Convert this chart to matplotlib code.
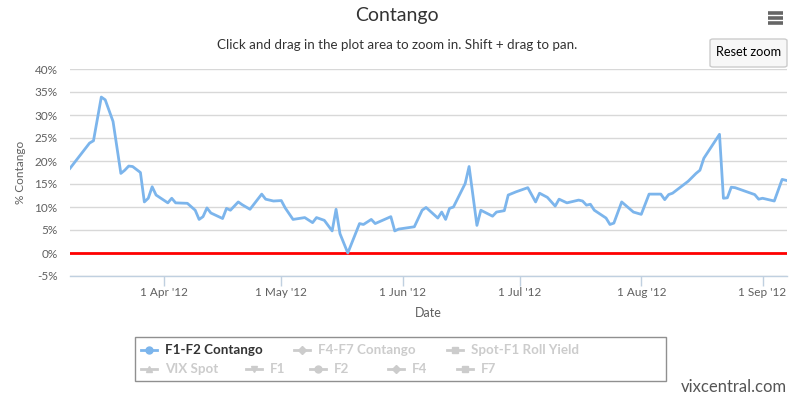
import matplotlib
matplotlib.use("Agg")
import matplotlib.pyplot as plt
from matplotlib.patches import FancyBboxPatch, Rectangle
from matplotlib.lines import Line2D
import datetime as dt

plt.rcParams['font.family'] = ['Lato', 'DejaVu Sans']

dates = ["2012-03-08", "2012-03-13", "2012-03-14", "2012-03-16", "2012-03-17", "2012-03-19",
         "2012-03-21", "2012-03-22", "2012-03-23", "2012-03-24", "2012-03-26", "2012-03-27",
         "2012-03-28", "2012-03-29", "2012-03-30", "2012-04-02", "2012-04-03", "2012-04-04",
         "2012-04-07", "2012-04-09", "2012-04-10", "2012-04-11", "2012-04-12", "2012-04-13",
         "2012-04-16", "2012-04-17", "2012-04-18", "2012-04-20", "2012-04-21", "2012-04-23",
         "2012-04-26", "2012-04-27", "2012-04-29", "2012-05-01", "2012-05-02", "2012-05-04",
         "2012-05-07", "2012-05-09", "2012-05-10", "2012-05-12", "2012-05-14", "2012-05-15",
         "2012-05-16", "2012-05-18", "2012-05-21", "2012-05-22", "2012-05-24", "2012-05-25",
         "2012-05-29", "2012-05-30", "2012-05-31", "2012-06-04", "2012-06-06", "2012-06-07",
         "2012-06-10", "2012-06-11", "2012-06-12", "2012-06-13", "2012-06-14", "2012-06-17",
         "2012-06-18", "2012-06-20", "2012-06-21", "2012-06-24", "2012-06-25", "2012-06-27",
         "2012-06-28", "2012-06-30", "2012-07-03", "2012-07-05", "2012-07-06", "2012-07-08",
         "2012-07-10", "2012-07-11", "2012-07-13", "2012-07-16", "2012-07-17", "2012-07-18",
         "2012-07-19", "2012-07-20", "2012-07-23", "2012-07-24", "2012-07-25", "2012-07-27",
         "2012-07-30", "2012-08-01", "2012-08-03", "2012-08-06", "2012-08-07", "2012-08-08",
         "2012-08-09", "2012-08-13", "2012-08-15", "2012-08-16", "2012-08-17", "2012-08-21",
         "2012-08-22", "2012-08-23", "2012-08-24", "2012-08-25", "2012-08-29", "2012-08-30",
         "2012-08-31", "2012-09-01", "2012-09-04", "2012-09-06", "2012-09-07"]
contango = [18.4, 23.9, 24.4, 33.9, 33.3, 28.6,
            17.3, 18.0, 18.9, 18.8, 17.5, 11.1,
            11.9, 14.4, 12.6, 10.9, 11.9, 10.9,
            10.8, 9.3, 7.3, 7.9, 9.8, 8.7,
            7.5, 9.7, 9.3, 11.1, 10.5, 9.5,
            12.8, 11.7, 11.3, 11.4, 9.8, 7.3,
            7.7, 6.6, 7.7, 7.1, 4.8, 9.5,
            4.2, 0.0, 6.4, 6.2, 7.3, 6.4,
            7.9, 4.8, 5.2, 5.7, 9.3, 9.9,
            7.6, 8.9, 7.3, 9.7, 10.0, 15.1,
            18.8, 6.0, 9.3, 8.0, 8.9, 9.2,
            12.6, 13.3, 14.2, 11.1, 13.0, 12.1,
            10.2, 11.7, 10.9, 11.5, 11.3, 10.4,
            10.6, 9.3, 7.6, 6.2, 6.5, 11.1,
            8.9, 8.4, 12.8, 12.8, 11.6, 12.7,
            13.0, 15.6, 17.3, 18.0, 20.6, 25.8,
            11.9, 12.0, 14.3, 14.2, 13.0, 12.7,
            11.7, 11.9, 11.3, 16.0, 15.8]

y_ticks = [-5, 0, 5, 10, 15, 20, 25, 30, 35, 40]
x_tick_dates = ["2012-04-01", "2012-05-01", "2012-06-01", "2012-07-01", "2012-08-01", "2012-09-01"]
x_tick_labels = ["1 Apr '12", "1 May '12", "1 Jun '12", "1 Jul '12", "1 Aug '12", "1 Sep '12"]
legend_names = ["F1-F2 Contango", "F4-F7 Contango", "Spot-F1 Roll Yield",
                "VIX Spot", "F1", "F2", "F4", "F7"]

W, H = 794, 397
fig = plt.figure(figsize=(W / 100, H / 100), dpi=100)

def fx(px):
    return px / W

def fy(py):
    return 1 - py / H

L, R, T, B = 70, 787, 69, 276
ax = fig.add_axes([fx(L), fy(B), fx(R) - fx(L), fy(T) - fy(B)])

xd = [dt.datetime.strptime(d, "%Y-%m-%d") for d in dates]
ax.plot(xd, contango, color="#7cb5ec", lw=2, solid_joinstyle="round", zorder=3)
ax.axhline(0, color="#ff0000", lw=2, zorder=2)

ax.set_ylim(-5, 40)
ax.set_xlim(dt.datetime(2012, 3, 8), dt.datetime(2012, 9, 7, 6))
ax.set_yticks(y_ticks)
ax.set_yticklabels([f"{v}%" for v in y_ticks])
ax.yaxis.grid(True, color="#d8d8d8", lw=1)
ax.set_axisbelow(True)
ax.tick_params(axis='y', length=0, labelsize=8.5, labelcolor="#606060", pad=9)

xt = [dt.datetime.strptime(d, "%Y-%m-%d") for d in x_tick_dates]
ax.set_xticks(xt)
ax.set_xticklabels(x_tick_labels)
ax.tick_params(axis='x', length=7.2, width=1, color="#c0d0e0", labelsize=8.5,
               labelcolor="#606060", pad=1)
for s in ["top", "right", "left"]:
    ax.spines[s].set_visible(False)
ax.spines["bottom"].set_color("#c0d0e0")
ax.spines["bottom"].set_linewidth(1)

ax.set_ylabel("% Contango", fontsize=8.5, color="#606060", labelpad=6)
ax.set_xlabel("Date", fontsize=9, color="#606060", labelpad=6)

fig.text(fx(397), fy(16), "Contango", ha="center", va="center", fontsize=14, color="#333333")
fig.text(fx(397), fy(45), "Click and drag in the plot area to zoom in. Shift + drag to pan.",
         ha="center", va="center", fontsize=9.6, color="#333333")

# menu icon
for yy in (13, 18, 23):
    fig.add_artist(Line2D([fx(768), fx(783)], [fy(yy), fy(yy)], color="#666666", lw=2.6,
                          solid_capstyle="butt"))

# reset zoom button
fig.add_artist(FancyBboxPatch((fx(710), fy(67)), fx(787) - fx(710), fy(39) - fy(67),
                              boxstyle="round,pad=0,rounding_size=0.004",
                              fc="#f7f7f7", ec="#cccccc", lw=1, transform=fig.transFigure))
fig.text(fx(748.5), fy(52), "Reset zoom", ha="center", va="center", fontsize=9.2, color="#000000")

# legend box
fig.add_artist(Rectangle((fx(135), fy(381)), fx(666) - fx(135), fy(337) - fy(381),
                         fill=False, ec="#909090", lw=1, transform=fig.transFigure))
markers = ["o", "D", "s", "^", "v", "o", "D", "s"]
tpos = [165, 318, 471, 165, 270, 334, 412, 481]
rows = [350, 350, 350, 369, 369, 369, 369, 369]
for i, name in enumerate(legend_names):
    mx, my = tpos[i] - 16, rows[i]
    col = "#7cb5ec" if i == 0 else "#cccccc"
    tcol = "#333333" if i == 0 else "#cccccc"
    fig.add_artist(Line2D([fx(mx - 8), fx(mx + 8)], [fy(my), fy(my)], color=col, lw=2))
    fig.add_artist(Line2D([fx(mx)], [fy(my)], marker=markers[i], color=col,
                          ms=5 if markers[i] != "D" else 4.2, mec=col, lw=0))
    fig.text(fx(tpos[i]), fy(my), name, ha="left", va="center", fontsize=9.6,
             color=tcol, fontweight="bold")

fig.text(fx(787), fy(387), "vixcentral.com", ha="right", va="center", fontsize=12, color="#555555")

fig.savefig("out.png", dpi=100)
